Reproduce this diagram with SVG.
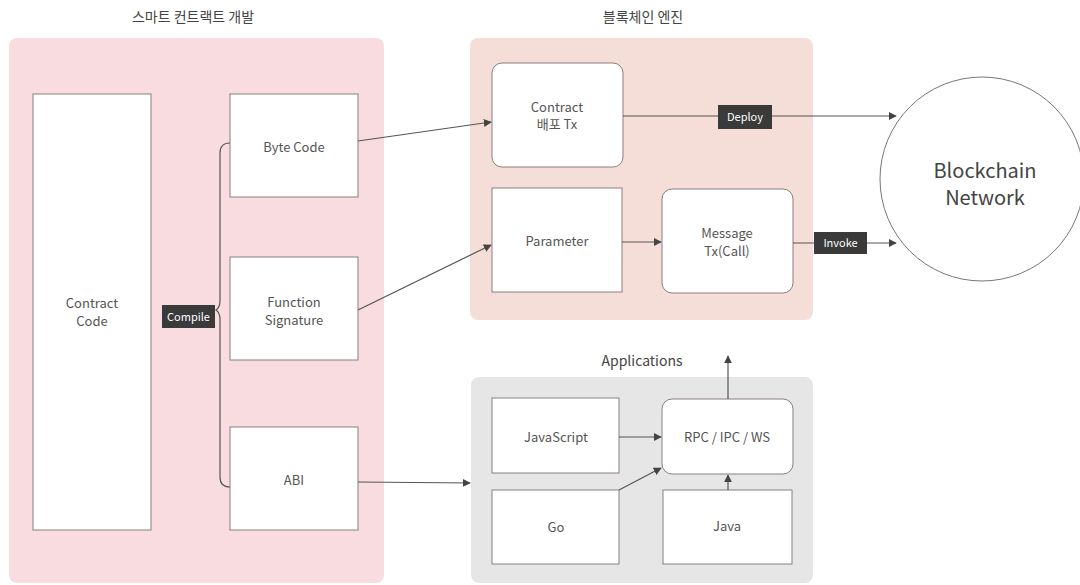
<svg xmlns="http://www.w3.org/2000/svg" width="1080" height="585" viewBox="0 0 1080 585">
<defs>
<style>
text{font-family:"Noto Sans CJK KR","Noto Sans",sans-serif;fill:#555;text-anchor:middle}
.t{font-size:13px}
.h{font-size:14px;fill:#444}
.box{fill:#fff;stroke:#8c7f7f;stroke-width:1}
.con{fill:none;stroke:#555;stroke-width:1.2}
.lbl{fill:#3a3a3a}
.lt{font-size:11px;fill:#fff}
</style>
<marker id="ah" viewBox="0 0 10 10" refX="9" refY="5" markerWidth="8" markerHeight="8" orient="auto" markerUnits="userSpaceOnUse">
<path d="M0,0 L10,5 L0,10 z" fill="#444"/>
</marker>
</defs>
<rect width="1080" height="585" fill="#fff"/>

<g id="panel-dev">
<rect x="9" y="38" width="375" height="545" rx="8" fill="#f9dcdf"/>
<text class="h" x="193" y="22">스마트 컨트랙트 개발</text>
</g>
<g id="panel-engine">
<rect x="470" y="38" width="343" height="282" rx="8" fill="#f6ded8"/>
<text class="h" x="643" y="22">블록체인 엔진</text>
</g>
<g id="panel-apps">
<rect x="471" y="377" width="342" height="206" rx="8" fill="#e6e6e6"/>
<text class="h" x="642" y="366">Applications</text>
</g>

<g id="contract-code"><rect class="box" x="33" y="94" width="118" height="436"/><text class="t" x="92" y="308">Contract</text><text class="t" x="92" y="326">Code</text></g>
<g id="byte-code"><rect class="box" x="230" y="94" width="128" height="103"/><text class="t" x="294" y="152">Byte Code</text></g>
<g id="function-signature"><rect class="box" x="230" y="257" width="128" height="103"/><text class="t" x="294" y="307">Function</text><text class="t" x="294" y="325">Signature</text></g>
<g id="abi"><rect class="box" x="230" y="427" width="128" height="103"/><text class="t" x="294" y="485">ABI</text></g>

<g id="contract-tx"><rect class="box" x="492" y="63" width="131" height="104" rx="10"/><text class="t" x="557" y="112">Contract</text><text class="t" x="557" y="129">배포 Tx</text></g>
<g id="parameter"><rect class="box" x="492" y="188" width="130" height="104"/><text class="t" x="557" y="246">Parameter</text></g>
<g id="message-tx"><rect class="box" x="662" y="189" width="131" height="104" rx="10"/><text class="t" x="727" y="238">Message</text><text class="t" x="727" y="256">Tx(Call)</text></g>

<g id="javascript"><rect class="box" x="492" y="398" width="127" height="75"/><text class="t" x="556" y="442">JavaScript</text></g>
<g id="go"><rect class="box" x="492" y="490" width="127" height="74"/><text class="t" x="556" y="532">Go</text></g>
<g id="rpc"><rect class="box" x="662" y="399" width="131" height="75" rx="10"/><text class="t" x="727" y="442">RPC / IPC / WS</text></g>
<g id="java"><rect class="box" x="663" y="490" width="129" height="74"/><text class="t" x="727" y="531">Java</text></g>

<g id="blockchain-network"><circle cx="982" cy="179" r="102" fill="#fff" stroke="#777" stroke-width="1"/><text x="985" y="178" font-size="20" style="fill:#444">Blockchain</text><text x="985" y="205" font-size="20" style="fill:#444">Network</text></g>

<g id="connectors">
<path class="con" d="M230,143 Q220,143 220,153 L220,301 Q220,307 216,310 Q220,313 220,319 L220,477 Q220,487 230,487"/>
<path class="con" d="M358,141 L491,122" marker-end="url(#ah)"/>
<path class="con" d="M358,310 L491,245" marker-end="url(#ah)"/>
<path class="con" d="M358,482 L470,483" marker-end="url(#ah)"/>
<path class="con" d="M623,116 L896,116" marker-end="url(#ah)"/>
<path class="con" d="M622,242 L661,242" marker-end="url(#ah)"/>
<path class="con" d="M793,243 L896,243" marker-end="url(#ah)"/>
<path class="con" d="M619,437 L661,437" marker-end="url(#ah)"/>
<path class="con" d="M619,490 L661,468" marker-end="url(#ah)"/>
<path class="con" d="M728,490 L728,475" marker-end="url(#ah)"/>
<path class="con" d="M728,399 L728,356" marker-end="url(#ah)"/>
</g>

<g id="labels">
<g id="compile-label"><rect class="lbl" x="162" y="305" width="53" height="23"/><text class="lt" x="188.5" y="320.5">Compile</text></g>
<g id="deploy-label"><rect class="lbl" x="718" y="105" width="54" height="24"/><text class="lt" x="745" y="121">Deploy</text></g>
<g id="invoke-label"><rect class="lbl" x="814" y="232" width="53" height="22"/><text class="lt" x="840.5" y="247">Invoke</text></g>
</g>
</svg>
